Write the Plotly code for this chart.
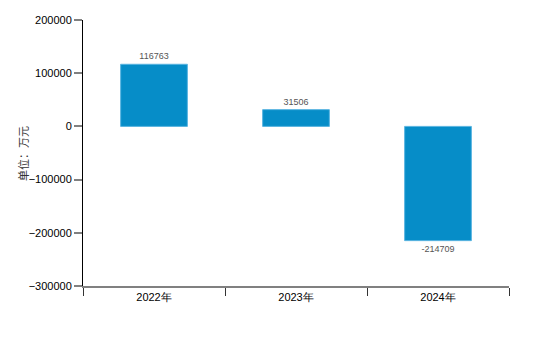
import plotly.graph_objects as go

categories = ["2022年", "2023年", "2024年"]
values = [116763, 31506, -214709]
labels = ["116763", "31506", "-214709"]

fig = go.Figure()
fig.add_trace(go.Bar(
    x=categories, y=values, text=labels, textposition="outside",
    textfont=dict(size=9, color="#555555", family="Liberation Sans"),
    marker=dict(color="#068dc8", line=dict(color="#5ab4e0", width=1)),
    width=0.47, cliponaxis=False,
))
fig.add_annotation(
    text="单位：万元", xref="paper", yref="paper", x=-0.141, y=0.5,
    textangle=-90, showarrow=False, xanchor="center", yanchor="middle",
    font=dict(size=11, family="Noto Sans CJK SC", color="#333333"),
)
fig.update_layout(
    width=560, height=346, margin=dict(l=83, r=51, t=20, b=60),
    plot_bgcolor="white", paper_bgcolor="white", showlegend=False,
    font=dict(family="Liberation Sans", size=11, color="#000000"),
    xaxis=dict(showline=True, linecolor="#808080", linewidth=2, ticks="outside",
               tickson="boundaries", ticklen=8, tickcolor="#333333", showgrid=False,
               tickfont=dict(size=11), automargin=False),
    yaxis=dict(range=[-300000, 200000], dtick=100000, showline=True, linecolor="#000000",
               linewidth=1, ticks="outside", ticklen=8, tickcolor="#808080", tickwidth=2,
               showgrid=False, zeroline=False, tickformat="d", automargin=False,
               tickfont=dict(size=11)),
)
fig.write_html("out.html")
